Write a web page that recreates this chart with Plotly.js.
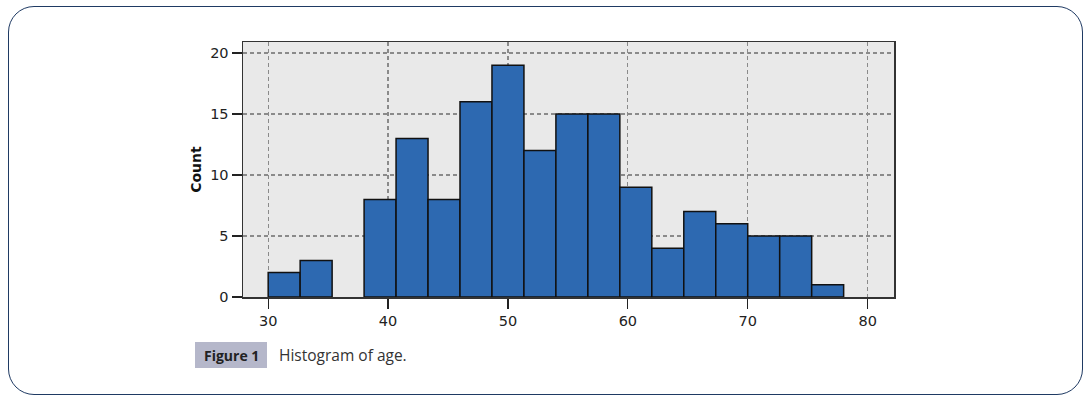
<!DOCTYPE html>
<html>
<head>
<meta charset="utf-8">
<script src="https://cdn.plot.ly/plotly-3.0.1.min.js"></script>
<style>
  html, body { margin: 0; padding: 0; background: #ffffff; }
  #wrap { position: relative; width: 1089px; height: 399px; overflow: hidden; }
  #frame { position: absolute; left: 8px; top: 6px; width: 1073px; height: 387px;
           border: 1.5px solid #1f3a63; border-radius: 26px; }
  #chart { position: absolute; left: 0; top: 0; width: 1089px; height: 399px; }
</style>
</head>
<body>
<div id="wrap">
  <div id="frame"></div>
  <div id="chart"></div>
</div>
<script>
// Histogram of age: 18 bins from 30 to 78
const binStart = 30;
const binEnd = 78;
const counts = [2, 3, 0, 8, 13, 8, 16, 19, 12, 15, 15, 9, 4, 7, 6, 5, 5, 1];
const xTickValues = [30, 40, 50, 60, 70, 80];
const yTickValues = [0, 5, 10, 15, 20];
const yTitle = "Count";
const figLabel = "Figure 1";
const figCaption = "Histogram of age.";

const binWidth = (binEnd - binStart) / counts.length;
const binLefts = counts.map((_, i) => binStart + i * binWidth);

const trace = {
  type: "bar",
  x: binLefts,
  y: counts,
  width: binWidth,
  offset: 0,
  marker: { color: "#2d69b1", line: { color: "#111111", width: counts.map(c => c > 0 ? 1.5 : 0) } },
  hoverinfo: "x+y"
};

const W = 1089, H = 399;
const L = 243, R = 894, T = 42, B = 297;
const px = v => (v - L) / (R - L);
const py = v => (B - v) / (B - T);

const tickFont = { family: "DejaVu Sans", size: 14.5, color: "#222" };

const layout = {
  width: W, height: H,
  margin: { l: L, r: W - R, t: T, b: H - B, pad: 0 },
  paper_bgcolor: "rgba(0,0,0,0)",
  plot_bgcolor: "#e9e9e9",
  showlegend: false,
  bargap: 0,
  font: { family: "DejaVu Sans", size: 14, color: "#222" },
  xaxis: {
    range: [27.9, 82.2],
    tickvals: xTickValues,
    ticktext: xTickValues.map(String),
    ticks: "outside", ticklen: 10, tickwidth: 1.3, tickcolor: "#222",
    showline: true, linecolor: "#333", linewidth: 1.5, mirror: true,
    showgrid: true, gridcolor: "#8a8a8a", griddash: "4px,3px", gridwidth: 1.2,
    zeroline: false,
    tickfont: tickFont
  },
  yaxis: {
    range: [0, 20.9],
    tickvals: yTickValues,
    ticktext: yTickValues.map(String),
    ticks: "outside", ticklen: 10, tickwidth: 1.3, tickcolor: "#222",
    showline: true, linecolor: "#333", linewidth: 1.5, mirror: true,
    showgrid: true, gridcolor: "#8a8a8a", griddash: "4px,3px", gridwidth: 1.2,
    zeroline: false,
    tickfont: tickFont,
    title: { text: "<b>" + yTitle + "</b>", font: { family: "DejaVu Sans", size: 14, color: "#111" }, standoff: 5 }
  },
  shapes: [
    { type: "rect", xref: "paper", yref: "paper",
      x0: px(195), x1: px(267), y0: py(368), y1: py(342),
      fillcolor: "#b5b7ca", line: { width: 0 }, layer: "below" }
  ],
  annotations: [
    { xref: "paper", yref: "paper", x: px(231), y: py(355), xanchor: "center", yanchor: "middle",
      text: "<b>" + figLabel + "</b>", showarrow: false,
      font: { family: "Open Sans, sans-serif", size: 14, color: "#222" } },
    { xref: "paper", yref: "paper", x: px(277), y: py(355), xanchor: "left", yanchor: "middle",
      text: figCaption, showarrow: false,
      font: { family: "Open Sans, sans-serif", size: 15.5, color: "#333" } }
  ]
};

Plotly.newPlot("chart", [trace], layout, { displayModeBar: false, staticPlot: true });
</script>
</body>
</html>
